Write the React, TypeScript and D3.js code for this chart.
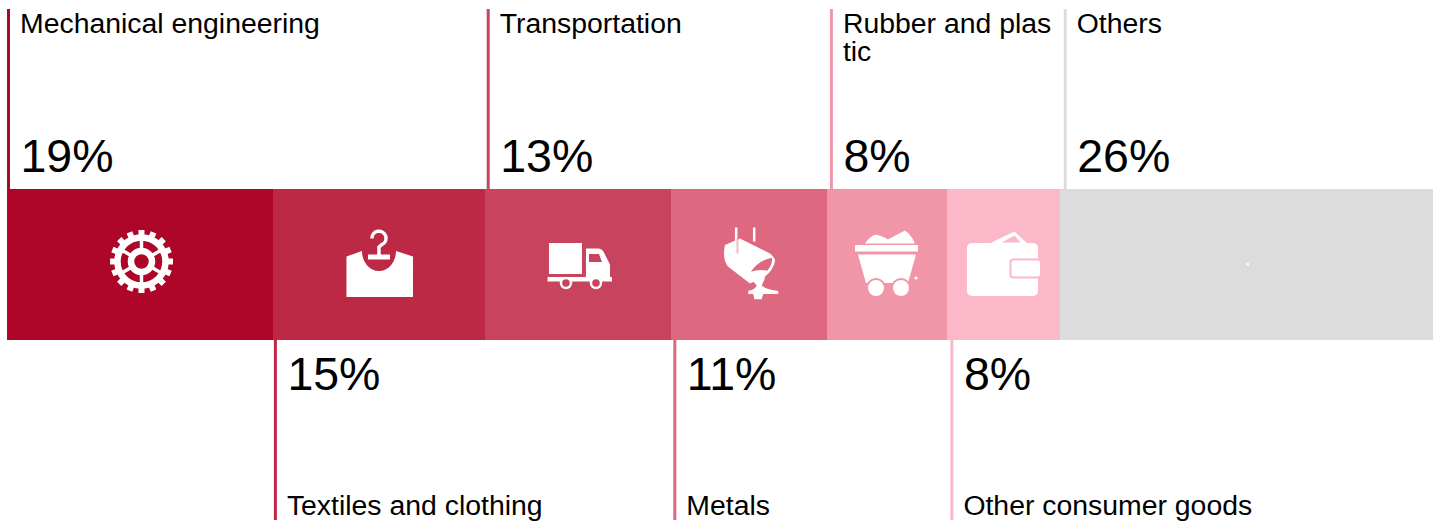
import React, { useEffect, useRef } from 'react';
import * as d3 from 'd3';

const categories = [
  'Mechanical engineering',
  'Textiles and clothing',
  'Transportation',
  'Metals',
  'Rubber and plastic',
  'Other consumer goods',
  'Others',
];
const shares = [18.65, 14.87, 13.04, 10.94, 8.42, 7.92, 26.16];
const palette = ['#AE0629', '#BD2845', '#C8435D', '#DD6880', '#F195A8', '#FBB8C8', '#DCDCDC'];

const WIDTH = 1441;
const HEIGHT = 522;
const FONT = '"Liberation Sans", Arial, sans-serif';

// icons are drawn around the middle of their segment
type Icon = (g: any, bg: string) => void;
const addPath = (g: any, d: string, fill: string) => g.append('path').attr('d', d).attr('fill', fill);

const gearIcon: Icon = (g) => {
  const c = g.append('g').attr('transform', 'translate(1.5,-3)');
  const teeth = d3.range(16).map((i) => (i * Math.PI) / 8);
  c.selectAll('line.tooth')
    .data(teeth)
    .enter()
    .append('line')
    .attr('x1', (a) => Math.cos(a) * 23)
    .attr('y1', (a) => Math.sin(a) * 23)
    .attr('x2', (a) => Math.cos(a) * 31.5)
    .attr('y2', (a) => Math.sin(a) * 31.5)
    .attr('stroke', '#fff')
    .attr('stroke-width', 6);
  c.append('circle').attr('r', 24).attr('fill', 'none').attr('stroke', '#fff').attr('stroke-width', 6.5);
  c.selectAll('line.spoke')
    .data(d3.range(6).map((i) => Math.PI / 2 + (i * Math.PI) / 3))
    .enter()
    .append('line')
    .attr('x1', (a) => Math.cos(a) * 11)
    .attr('y1', (a) => Math.sin(a) * 11)
    .attr('x2', (a) => Math.cos(a) * 24)
    .attr('y2', (a) => Math.sin(a) * 24)
    .attr('stroke', '#fff')
    .attr('stroke-width', 3.5);
  c.append('circle').attr('r', 10.5).attr('fill', 'none').attr('stroke', '#fff').attr('stroke-width', 6.5);
};

const shirtIcon: Icon = (g) => {
  addPath(g, 'M-32.5,-8 L-17,-13.5 A17 20 0 0 0 17,-13.5 L34,-8 V32.5 H-32.5 Z', '#fff');
  g.append('path')
    .attr('d', 'M-7,-26 A7 7 0 1 1 3,-20 L0,-17.5 V-8')
    .attr('fill', 'none')
    .attr('stroke', '#fff')
    .attr('stroke-width', 3.5);
  g.append('rect').attr('x', -11).attr('y', -10).attr('width', 22).attr('height', 5).attr('fill', '#fff');
};

const truckIcon: Icon = (g, bg) => {
  addPath(g, 'M-29,-21.5 H4 V9.5 H-29 Z', '#fff');
  addPath(g, 'M8,-16 H20 Q24,-16 26,-12 L32,0 V13 H8 Z M11,-10.5 V-2.5 H24 L21,-10.5 Z', '#fff').attr(
    'fill-rule',
    'evenodd'
  );
  addPath(g, 'M-30.5,12.5 H34 V17 H-30.5 Z', '#fff');
  g.selectAll('circle')
    .data([-12, 18])
    .enter()
    .append('circle')
    .attr('cx', (d) => d)
    .attr('cy', 18.5)
    .attr('r', 5)
    .attr('fill', bg)
    .attr('stroke', '#fff')
    .attr('stroke-width', 2.5);
};

const ladleIcon: Icon = (g, bg) => {
  addPath(g, 'M-14,-37 h2.5 v16 h-2.5 Z M4,-37 h2.5 v14 h-2.5 Z', '#fff');
  addPath(g, 'M-24,-19.5 L-9,-26 L21,-11 Q27,-6 26,-3 Q24,6 16,12 L1,19 L-21,2 Q-27,-6 -24,-19.5 Z', '#fff');
  addPath(g, 'M-12.5,-26 h2 v15 h-2 Z', bg).attr('opacity', 0.45);
  addPath(g, 'M22.7,-6.8 Q9,-4 2,7.2 Q10,4.5 18.3,6.2 Q24.3,-1 22.7,-6.8 Z', bg);
  addPath(
    g,
    'M2,8.8 H16 Q17,15 12.7,20.5 Q15,25 29.3,26.5 V29.5 H14.3 L12.7,34.8 H5.3 L4.3,29.5 H-0.7 V26.2 Q7,25 7.7,20.5 Q2,16 2,8.8 Z',
    '#fff'
  );
};

const cartIcon: Icon = (g) => {
  addPath(g, 'M-22,-21 Q-15,-31 -9,-29.5 Q-1,-27 1,-25 Q10,-30 18,-34 Q24,-30 28,-21 Z', '#fff');
  addPath(g, 'M-32,-19.5 H31 V-13 H-32 Z', '#fff');
  addPath(g, 'M-29,-10 H29 L21,18.5 H-21 Z', '#fff');
  g.selectAll('circle.wheel')
    .data([-11, 14])
    .enter()
    .append('circle')
    .attr('cx', (d) => d)
    .attr('cy', 23.5)
    .attr('r', 9)
    .attr('fill', '#fff')
    .attr('stroke', palette[4])
    .attr('stroke-width', 2);
  g.append('circle').attr('cx', 29).attr('cy', 13.5).attr('r', 1.6).attr('fill', '#fff');
};

const walletIcon: Icon = (g, bg) => {
  const rect = (x, y, w, h, rx, fill) =>
    g.append('rect').attr('x', x).attr('y', y).attr('width', w).attr('height', h).attr('rx', rx).attr('fill', fill);
  addPath(g, 'M-14,-21 L11,-33 L24,-21 Z', '#fff');
  addPath(g, 'M-2,-22 L11,-29 L17,-22 Z', bg);
  rect(-36.5, -21.5, 71, 53, 5, '#fff');
  rect(6, -6, 32, 20, 4, bg);
  rect(8, -4, 28.5, 16, 2, '#fff');
};

const othersIcon: Icon = (g) => {
  g.append('rect').attr('x', 0).attr('y', -1.5).attr('width', 2.5).attr('height', 2.5).attr('fill', '#fff');
};

const icons: Icon[] = [gearIcon, shirtIcon, truckIcon, ladleIcon, cartIcon, walletIcon, othersIcon];

const App = () => {
  const chartRef = useRef(null);

  useEffect(() => {
    const svg = d3.select(chartRef.current);
    svg.selectAll('*').remove();

    const barTop = 189;
    const barBottom = 340;

    // running totals of the shares
    const starts = shares.map((_, i) => d3.sum(shares.slice(0, i)));
    const total = d3.sum(shares);

    const x = d3.scaleLinear().domain([0, total]).range([7, 1433]);
    // the leader lines drift very slightly against the bar
    const xLabel = d3.scaleLinear().domain([0, total]).range([8.5, 1439.6]);

    const rows = categories.map((name, i) => ({
      name,
      i,
      start: starts[i],
      share: shares[i],
      color: palette[i],
      top: i % 2 === 0,
    }));

    const y = d3.scaleLinear().domain([0, 1]).range([barTop, barBottom]);

    svg
      .selectAll('rect.segment')
      .data(rows)
      .enter()
      .append('rect')
      .attr('class', 'segment')
      .attr('x', (d) => x(d.start))
      .attr('y', y(0))
      .attr('width', (d) => x(d.start + d.share) - x(d.start))
      .attr('height', y(1) - y(0))
      .attr('fill', (d) => d.color)
      .attr('shape-rendering', 'crispEdges');

    rows.forEach((d) => {
      const g = svg
        .append('g')
        .attr('transform', `translate(${x(d.start + d.share / 2)},${y(0.5)})`);
      icons[d.i](g, d.color);
    });

    const fmt = (v: number) => `${d3.format('.0f')(v)}%`;

    rows.forEach((d, idx) => {
      const lx = xLabel(d.start);
      const textX = lx + 11.5;
      const g = svg.append('g').attr('font-family', FONT).attr('fill', '#000');

      g.append('line')
        .attr('x1', lx)
        .attr('x2', lx)
        .attr('y1', d.top ? 9 : barBottom)
        .attr('y2', d.top ? barTop : 520)
        .attr('stroke', d.color)
        .attr('stroke-width', 3);

      g.append('text')
        .attr('x', textX + 0.5)
        .attr('y', d.top ? 172 : 390)
        .attr('font-size', 46.5)
        .text(fmt(d.share));

      // labels break mid-word when they run into the next leader line
      const next = rows[idx + 2];
      const maxWidth = (next ? xLabel(next.start) : WIDTH + 20) - lx - 21;
      const nameEl = g
        .append('text')
        .attr('font-size', 28.4)
        .attr('y', d.top ? 33 : 515);
      const lines: string[] = [];
      let current = '';
      for (const ch of d.name) {
        nameEl.text(current + ch);
        if ((nameEl.node() as any).getComputedTextLength() > maxWidth) {
          lines.push(current);
          current = ch;
        } else {
          current += ch;
        }
      }
      lines.push(current);
      nameEl.text(null);
      lines.forEach((line, k) => {
        nameEl
          .append('tspan')
          .attr('x', textX)
          .attr('dy', k === 0 ? 0 : 27.5)
          .text(line);
      });
    });
  }, []);

  return (
    <svg
      ref={chartRef}
      width={WIDTH}
      height={HEIGHT}
      style={{ position: 'absolute', left: 0, top: 0, display: 'block' }}
    ></svg>
  );
};

export default App;
